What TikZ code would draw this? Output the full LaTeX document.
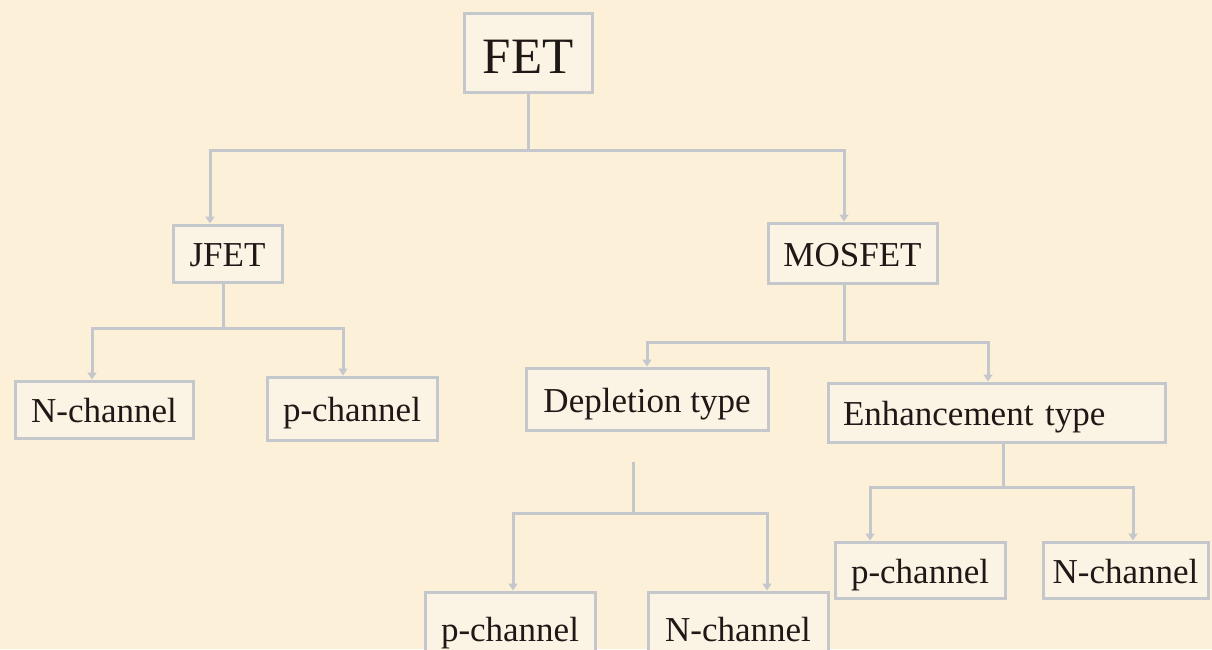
\documentclass[tikz,border=0pt]{standalone}
\usepackage{fontspec}
\setmainfont{Liberation Serif}
\usetikzlibrary{arrows.meta}
\definecolor{bgc}{RGB}{252,240,216}
\definecolor{boxfill}{RGB}{251,243,228}
\definecolor{edge}{RGB}{196,200,204}
\definecolor{ink}{RGB}{30,25,22}
\tikzset{
  box/.style={draw=edge, line width=3pt, fill=boxfill, text=ink, font=\fontsize{35}{38}\selectfont, inner sep=0pt, text height=27pt, text depth=1pt, minimum width=#1},
  ln/.style={draw=edge, line width=3pt},
  arr/.style={draw=edge, line width=3pt, -{Triangle[width=9pt,length=7pt]}}
}
\begin{document}
\begin{tikzpicture}[x=1pt,y=-1pt]
\fill[bgc] (0,0) rectangle (1212,649);
\useasboundingbox (0,0) rectangle (1212,649);
\clip (0,0) rectangle (1212,649);
\node[box=128pt, minimum height=79pt, font=\fontsize{51}{56}\selectfont, text height=43pt, text depth=2pt] (FET) at (528,52.5) {FET};
\node[box=109pt, minimum height=57pt] (JFET) at (227.5,253.5) {JFET};
\node[box=169pt, minimum height=60pt] (MOS) at (852.5,253) {MOSFET};
\node[box=178pt, minimum height=57pt] (NL) at (104,409.5) {N-channel};
\node[box=170pt, minimum height=63pt] (PL) at (352,408.5) {p-channel};
\node[box=242pt, minimum height=62pt] (DEP) at (647,399) {Depletion type};
\node[box=337pt, minimum height=59pt, text width=307pt, inner xsep=15pt, align=left] (ENH) at (996.5,412.5) {Enhancement type};
\node[box=170pt, minimum height=56pt] (PE) at (920,570) {p-channel};
\node[box=165pt, minimum height=56pt] (NE) at (1125.5,570) {N-channel};
\node[box=170pt, minimum height=72pt] (PB) at (510,628) {p-channel};
\node[box=180pt, minimum height=72pt] (NB) at (738,628) {N-channel};
\coordinate (b1) at (528,150);
\coordinate (b2) at (223,328);
\coordinate (b3) at (844,342);
\coordinate (d0) at (633,462);
\coordinate (b4) at (633,513);
\coordinate (b5) at (1003,487);
\draw[ln] (FET) -- (b1);
\draw[arr] (b1) -| ([xshift=-17.5pt]JFET.north);
\draw[arr] (b1) -| ([xshift=-8.5pt]MOS.north);
\draw[ln] ([xshift=-4.5pt]JFET.south) -- (b2);
\draw[arr] (b2) -| ([xshift=-12pt]NL.north);
\draw[arr] (b2) -| ([xshift=-9pt]PL.north);
\draw[ln] (MOS.south -| b3) -- (b3);
\draw[arr] (b3) -| (DEP.north);
\draw[arr] (b3) -| ([xshift=-8.5pt]ENH.north);
\draw[ln] (d0) -- (b4);
\draw[arr] (b4) -| ([xshift=3pt]PB.north);
\draw[arr] (b4) -| ([xshift=29pt]NB.north);
\draw[ln] ([xshift=6.5pt]ENH.south) -- (b5);
\draw[arr] (b5) -| ([xshift=-50pt]PE.north);
\draw[arr] (b5) -| ([xshift=7.5pt]NE.north);
\end{tikzpicture}
\end{document}
